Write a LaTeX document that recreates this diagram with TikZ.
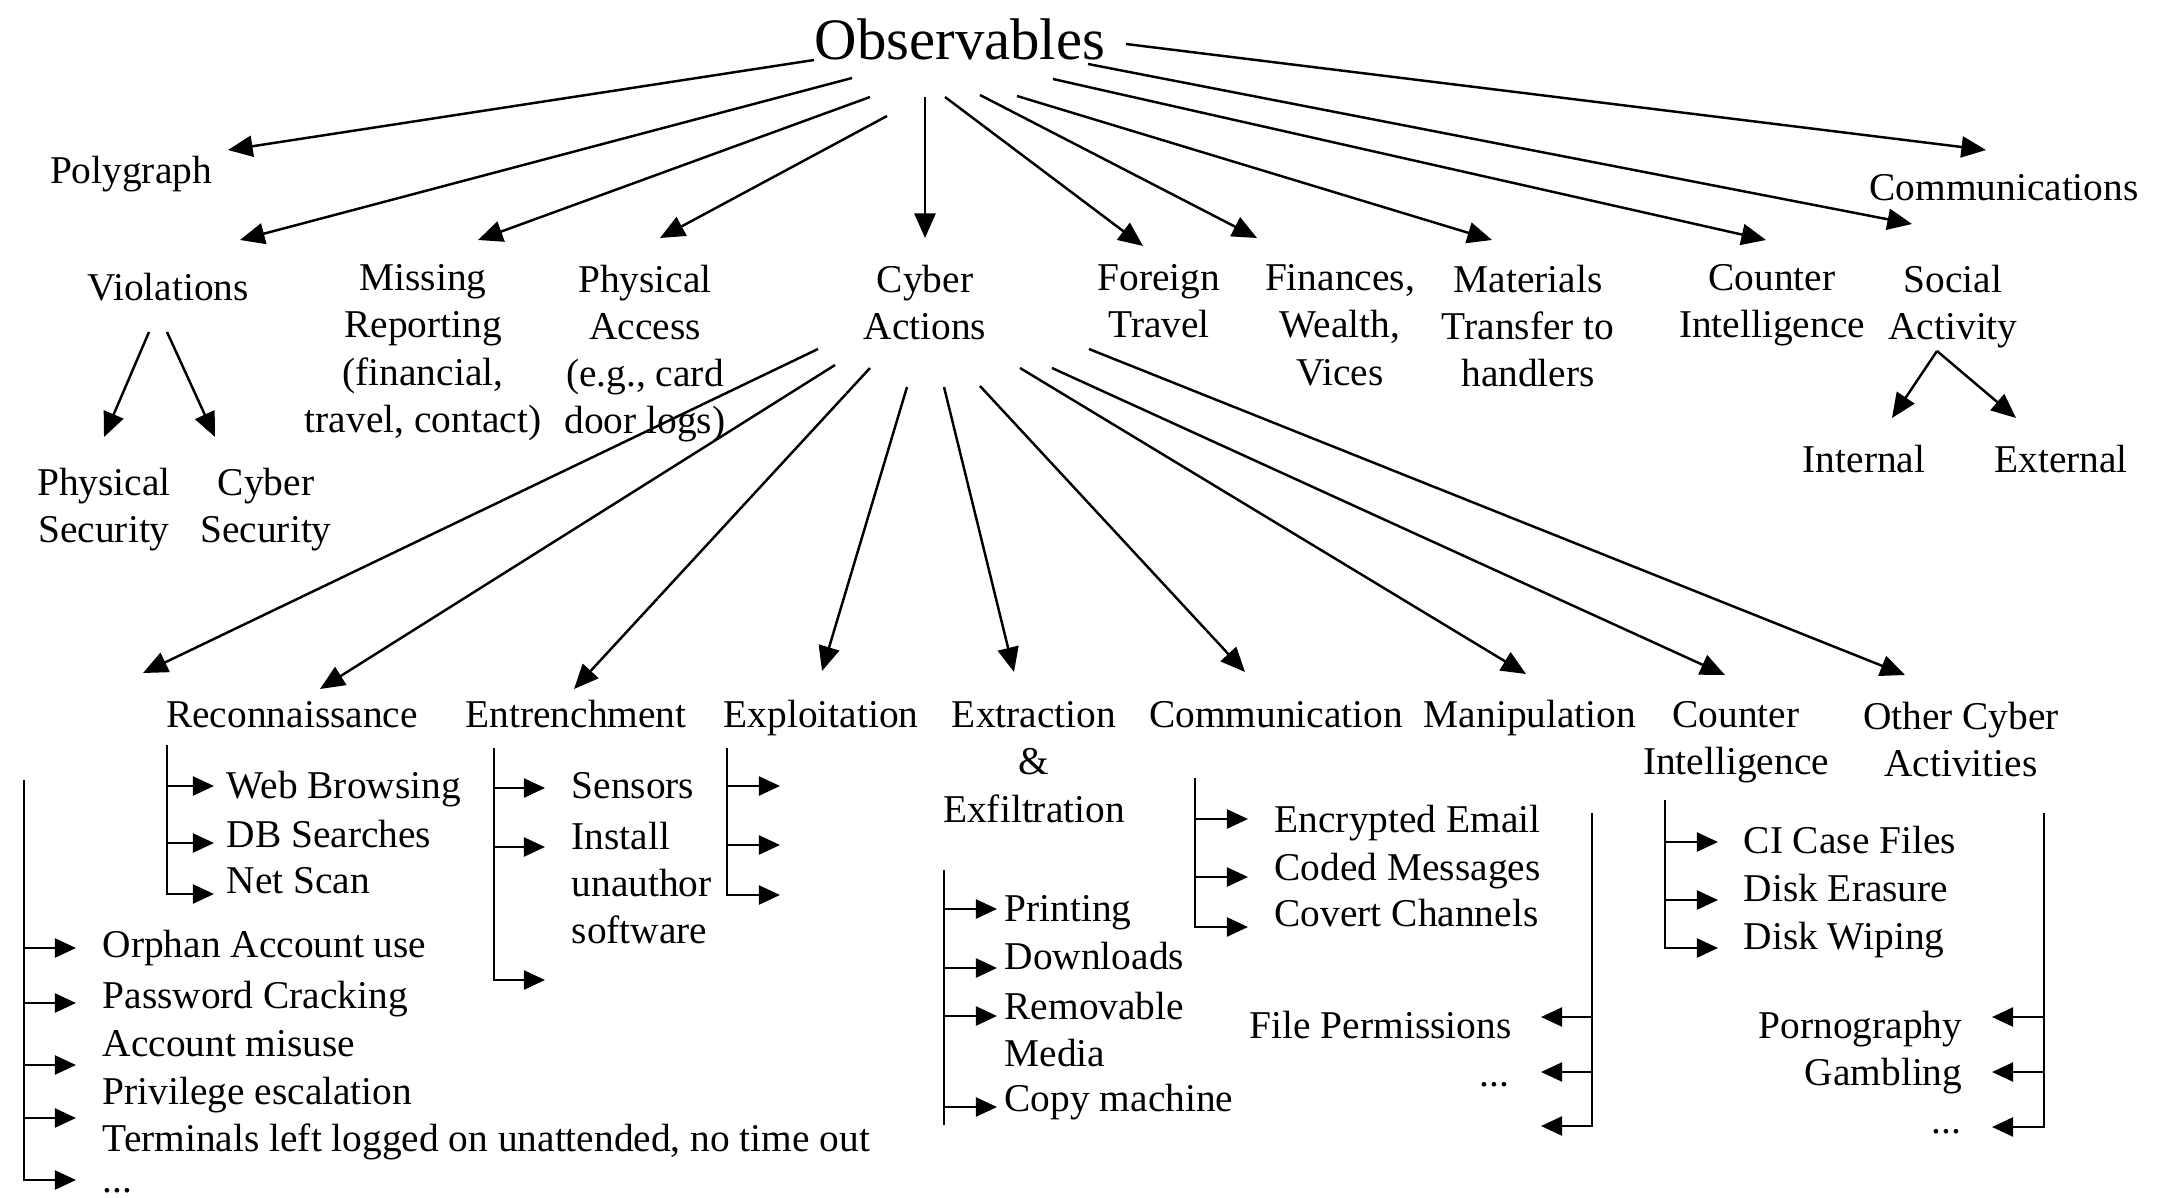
\documentclass[tikz,border=0pt]{standalone}
\usepackage{fontspec}
\setmainfont{Liberation Serif}
\usetikzlibrary{arrows.meta}

\begin{document}
\begin{tikzpicture}[x=0.01cm,y=-0.01cm,
  lbl/.style={inner sep=0pt, font=\fontsize{11.2}{13.4}\selectfont, align=center},
  item/.style={inner sep=0pt, font=\fontsize{11.2}{13.4}\selectfont},
  link/.style={line width=0.7pt, -{Triangle[length=7pt,width=6pt]}},
  branch/.style={line width=0.7pt, -{Triangle[length=6pt,width=5.4pt]}},
  rail/.style={line width=0.7pt}]

\useasboundingbox (0,0) rectangle (2158,1197);
\clip (0,0) rectangle (2158,1197);

% ---------------- root ----------------
\node[inner sep=0pt, font=\fontsize{16.7}{20}\selectfont, anchor=base] (obs) at (960,60) {Observables};

% ---------------- first level ----------------
\node[lbl, anchor=base] (poly) at (131,183) {Polygraph};
\node[lbl, anchor=base] (comms) at (2004,200) {Communications};
\node[lbl, anchor=base] (viol) at (168,300) {Violations};
\node[lbl, anchor=north] (miss) at (423,264) {Missing\\Reporting\\(financial,\\travel, contact)};
\node[lbl, anchor=north] (phys) at (645,264) {Physical\\Access\\(e.g., card\\door logs)};
\node[lbl, anchor=north] (cyber) at (925,264) {Cyber\\Actions};
\node[lbl, anchor=north] (foreign) at (1159,264) {Foreign\\Travel};
\node[lbl, anchor=north] (fin) at (1340,264) {Finances,\\Wealth,\\Vices};
\node[lbl, anchor=north] (mat) at (1528,264) {Materials\\Transfer to\\handlers};
\node[lbl, anchor=north] (ci) at (1772,264) {Counter\\Intelligence};
\node[lbl, anchor=north] (soc) at (1953,264) {Social\\Activity};

% violations / social activity children
\node[lbl, anchor=north] (psec) at (104,467) {Physical\\Security};
\node[lbl, anchor=north] (csec) at (266,467) {Cyber\\Security};
\node[lbl, anchor=base] (int) at (1864,472) {Internal};
\node[lbl, anchor=base] (ext) at (2061,472) {External};

% ---------------- cyber action categories ----------------
\node[lbl, anchor=base] (recon) at (292,727) {Reconnaissance};
\node[lbl, anchor=base] (entr) at (576,727) {Entrenchment};
\node[lbl, anchor=base] (expl) at (821,727) {Exploitation};
\node[lbl, anchor=north] (extr) at (1034,701) {Extraction\\\&\\Exfiltration};
\node[lbl, anchor=base] (comm) at (1276,727) {Communication};
\node[lbl, anchor=base] (manip) at (1530,727) {Manipulation};
\node[lbl, anchor=north] (ci2) at (1736,701) {Counter\\Intelligence};
\node[lbl, anchor=north] (other) at (1961,701) {Other Cyber\\Activities};

% ---------------- arrows from the root ----------------
\coordinate (o1) at (814,60);   \coordinate (t1) at (228,150);
\coordinate (o2) at (852,78);   \coordinate (t2) at (240,240);
\coordinate (o3) at (870,97);   \coordinate (t3) at (478,240);
\coordinate (o4) at (887,116);  \coordinate (t4) at (660,238);
\coordinate (o5) at (925,97);   \coordinate (t5) at (925,238);
\coordinate (o6) at (945,97);   \coordinate (t6) at (1143,246);
\coordinate (o7) at (980,95);   \coordinate (t7) at (1257,238);
\coordinate (o8) at (1017,96);  \coordinate (t8) at (1492,240);
\coordinate (o9) at (1053,79);  \coordinate (t9) at (1766,240);
\coordinate (o10) at (1088,64); \coordinate (t10) at (1912,224);
\coordinate (o11) at (1126,44); \coordinate (t11) at (1986,150);
\foreach \i in {1,...,11} \draw[link] (o\i) -- (t\i);

% violations and social activity split
\coordinate (v1) at (149,332); \coordinate (vt1) at (104,437);
\coordinate (v2) at (167,332); \coordinate (vt2) at (215,437);
\draw[link] (v1) -- (vt1);
\draw[link] (v2) -- (vt2);
\coordinate (s0) at (1937,351);
\coordinate (st1) at (1892,418); \coordinate (st2) at (2016,418);
\draw[link] (s0) -- (st1);
\draw[link] (s0) -- (st2);

% ---------------- arrows from cyber actions ----------------
\coordinate (c1) at (818,349);  \coordinate (ct1) at (143,673);
\coordinate (c2) at (835,365);  \coordinate (ct2) at (320,689);
\coordinate (c3) at (870,368);  \coordinate (ct3) at (574,689);
\coordinate (c4) at (907,387);  \coordinate (ct4) at (822,671);
\coordinate (c5) at (944,387);  \coordinate (ct5) at (1014,672);
\coordinate (c6) at (980,386);  \coordinate (ct6) at (1245,672);
\coordinate (c7) at (1020,368); \coordinate (ct7) at (1526,674);
\coordinate (c8) at (1052,368); \coordinate (ct8) at (1725,675);
\coordinate (c9) at (1089,349); \coordinate (ct9) at (1905,675);
\foreach \i in {1,...,9} \draw[link] (c\i) -- (ct\i);

% ---------------- account misuse list (far left) ----------------
\coordinate (am-top) at (24,780);
\coordinate (am1) at (76,948);
\coordinate (am2) at (76,1003);
\coordinate (am3) at (76,1065);
\coordinate (am4) at (76,1118);
\coordinate (am5) at (76,1180);
\draw[branch] (am-top) |- (am5);
\foreach \i in {1,...,4} \draw[branch] (am-top |- am\i) -- (am\i);
\node[item, anchor=base west] (orph) at (102,957) {Orphan Account use};
\node[item, anchor=base west] (pwd) at (102,1008) {Password Cracking};
\node[item, anchor=base west] (misuse) at (102,1056) {Account misuse};
\node[item, anchor=base west] (priv) at (102,1104) {Privilege escalation};
\node[item, anchor=base west] (term) at (102,1151) {Terminals left logged on unattended, no time out};
\node[item, anchor=base west] (amore) at (102,1192) {...};

% ---------------- reconnaissance list ----------------
\coordinate (rc-top) at (167,745);
\coordinate (rc1) at (214,786);
\coordinate (rc2) at (214,843);
\coordinate (rc3) at (214,894);
\draw[branch] (rc-top) |- (rc3);
\foreach \i in {1,2} \draw[branch] (rc-top |- rc\i) -- (rc\i);
\node[item, anchor=base west] (web) at (226,798) {Web Browsing};
\node[item, anchor=base west] (db) at (226,847) {DB Searches};
\node[item, anchor=base west] (net) at (226,893) {Net Scan};

% ---------------- entrenchment list ----------------
\coordinate (en-top) at (494,748);
\coordinate (en1) at (545,788);
\coordinate (en2) at (545,847);
\coordinate (en3) at (545,980);
\draw[branch] (en-top) |- (en3);
\foreach \i in {1,2} \draw[branch] (en-top |- en\i) -- (en\i);
\node[item, anchor=base west] (sens) at (571,798) {Sensors};
\node[item, anchor=north west, align=left] (inst) at (571,821) {Install\\unauthor\\software};

% ---------------- exploitation list ----------------
\coordinate (ex-top) at (727,748);
\coordinate (ex1) at (780,786);
\coordinate (ex2) at (780,845);
\coordinate (ex3) at (780,895);
\draw[branch] (ex-top) |- (ex3);
\foreach \i in {1,2} \draw[branch] (ex-top |- ex\i) -- (ex\i);

% ---------------- extraction list ----------------
\coordinate (xf-top) at (944,870);
\coordinate (xf-bot) at (944,1125);
\coordinate (xf1) at (997,909);
\coordinate (xf2) at (997,968);
\coordinate (xf3) at (997,1016);
\coordinate (xf4) at (997,1107);
\draw[rail] (xf-top) -- (xf-bot);
\foreach \i in {1,...,4} \draw[branch] (xf-top |- xf\i) -- (xf\i);
\node[item, anchor=base west] (prn) at (1004,921) {Printing};
\node[item, anchor=base west] (dl) at (1004,969) {Downloads};
\node[item, anchor=north west, align=left] (rem) at (1004,991) {Removable\\Media};
\node[item, anchor=base west] (copy) at (1004,1111) {Copy machine};

% ---------------- communication list ----------------
\coordinate (cm-top) at (1195,778);
\coordinate (cm1) at (1248,819);
\coordinate (cm2) at (1248,877);
\coordinate (cm3) at (1248,927);
\draw[branch] (cm-top) |- (cm3);
\foreach \i in {1,2} \draw[branch] (cm-top |- cm\i) -- (cm\i);
\node[item, anchor=base west] (enc) at (1274,832) {Encrypted Email};
\node[item, anchor=base west] (coded) at (1274,880) {Coded Messages};
\node[item, anchor=base west] (cov) at (1274,926) {Covert Channels};

% ---------------- manipulation list ----------------
\coordinate (mp-top) at (1592,813);
\coordinate (mp1) at (1541,1017);
\coordinate (mp2) at (1541,1072);
\coordinate (mp3) at (1541,1126);
\draw[branch] (mp-top) |- (mp3);
\foreach \i in {1,2} \draw[branch] (mp-top |- mp\i) -- (mp\i);
\node[item, anchor=base east] (fperm) at (1512,1038) {File Permissions};
\node[item, anchor=base east] (mpmore) at (1510,1086) {...};

% ---------------- counter intelligence list ----------------
\coordinate (ci-top) at (1665,800);
\coordinate (ci1) at (1718,842);
\coordinate (ci2b) at (1718,900);
\coordinate (ci3) at (1718,948);
\draw[branch] (ci-top) |- (ci3);
\draw[branch] (ci-top |- ci1) -- (ci1);
\draw[branch] (ci-top |- ci2b) -- (ci2b);
\node[item, anchor=base west] (cif) at (1743,853) {CI Case Files};
\node[item, anchor=base west] (der) at (1743,901) {Disk Erasure};
\node[item, anchor=base west] (dwp) at (1743,949) {Disk Wiping};

% ---------------- other cyber activities list ----------------
\coordinate (oc-top) at (2044,813);
\coordinate (oc1) at (1992,1017);
\coordinate (oc2) at (1992,1072);
\coordinate (oc3) at (1992,1127);
\draw[branch] (oc-top) |- (oc3);
\foreach \i in {1,2} \draw[branch] (oc-top |- oc\i) -- (oc\i);
\node[item, anchor=base east] (porn) at (1963,1038) {Pornography};
\node[item, anchor=base east] (gamb) at (1963,1085) {Gambling};
\node[item, anchor=base east] (ocmore) at (1962,1133) {...};

\end{tikzpicture}
\end{document}
